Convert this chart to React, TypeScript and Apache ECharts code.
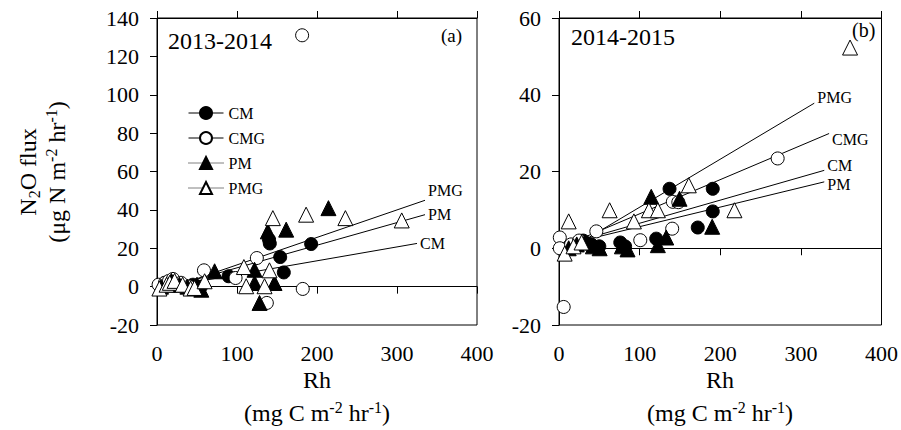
import React, { useEffect, useRef } from "react";
import * as echarts from "echarts";

const FONT = "Liberation Serif";

// axis ranges / ticks
const X_RANGE = { min: 0, max: 400, interval: 100 };
const Y_LEFT = { min: -20, max: 140, interval: 20 };
const Y_RIGHT = { min: -20, max: 60, interval: 20 };

// Panel (a) 2013-2014 : [Rh, N2O flux]
const CM_L = [[10, 2], [20, 3], [25, 1], [35, 0], [45, 1], [55, 0], [89.5, 5.4], [140, 24.5], [141, 22.5], [154, 15.4], [158.5, 7.4], [192.7, 22.2]];
const CMG_L = [[2, 1], [10, 2], [15, 3], [20, 4], [30, 2], [40, 0], [58.7, 8.5], [98.2, 4.5], [124.8, 14.9], [137.3, -8.5], [181.4, 131], [182.2, -1.2]];
const PM_L = [[5, 0], [15, 1], [18, 3], [28, 1], [38, 0], [50, 1], [55.4, -1.6], [72, 8], [121.9, 8.8], [122, 1.9], [128.2, -8.5], [138.5, 28.8], [146.9, 1.9], [161.5, 29.7], [214.3, 40.9]];
const PMG_L = [[3, -1], [12, 1], [16, 2], [22, 3], [32, 1], [42, -1], [47, -0.7], [59.5, 2.8], [108.6, 10.2], [111.5, 0.2], [134.4, 0.2], [140.6, 8.5], [144.8, 35.7], [186.4, 37.5], [235.5, 35.7], [305.9, 34.5]];

// Panel (b) 2014-2015
const CM_R = [[10, 0.5], [20, 1], [30, 2], [40, 1], [50, 0.5], [76, 1.5], [82, 0.5], [120.6, 2.5], [137.1, 15.5], [172.1, 5.4], [190.7, 15.5], [190.7, 9.6]];
const CMG_R = [[1, 2.8], [1, 0], [5.8, -15.3], [15, 1], [25, 2], [46.3, 4.4], [100.8, 2.1], [140.4, 5.1], [141.2, 12.1], [148, 12], [271.2, 23.4]];
const PM_R = [[12, 0], [22, 1], [32, 1.5], [42, 0.5], [50.4, 0], [78, 0.5], [85, -0.3], [114.4, 13.4], [122.6, 0.8], [133, 2.8], [149.5, 12.9], [190, 5.6]];
const PMG_R = [[7, -1.4], [12, 7], [18, 0.5], [28, 1.5], [62.8, 9.9], [92.9, 7], [111.5, 9.9], [122.6, 9.9], [161, 16.4], [217.6, 9.9], [361, 52.3]];

// regression lines (end points)
const FIT_L_PMG = [[0, -3], [335, 45]];
const FIT_L_PM = [[0, -2], [335, 37.5]];
const FIT_L_CM = [[0, -1], [325, 22.5]];
const FIT_R_PMG = [[25, 1.3], [316.6, 37.8]];
const FIT_R_CMG = [[25, 2.3], [335, 29.9]];
const FIT_R_CM = [[25, 2], [329, 20.3]];
const FIT_R_PM = [[25, 1.8], [329, 17.3]];

const NAMES = ["CM", "CMG", "PM", "PMG"];

export default function App() {
  const ref = useRef<HTMLDivElement>(null);
  useEffect(() => {
    if (!ref.current) return;
    document.body.style.margin = "0";
    const chart = echarts.init(ref.current, undefined, { renderer: "svg" });

    const pts = (name: string, data: number[][], panel: number, filled: boolean, symbol: string) => ({
      type: "line",
      name,
      xAxisIndex: panel * 2,
      yAxisIndex: panel,
      data,
      symbol,
      symbolSize: symbol === "circle" ? 13 : 15,
      showSymbol: true,
      lineStyle: { width: 0, opacity: 0 },
      itemStyle: filled
        ? { color: "#000", borderColor: "#000", borderWidth: 1 }
        : { color: "#fff", borderColor: "#000", borderWidth: 1 },
      z: 3,
      silent: true,
    });

    const fit = (label: string, data: number[][], panel: number, offset: number[]) => ({
      type: "line",
      name: label + " fit",
      xAxisIndex: panel * 2,
      yAxisIndex: panel,
      data,
      symbol: "none",
      lineStyle: { color: "#000", width: 1 },
      z: 2,
      silent: true,
      endLabel: {
        show: true,
        formatter: label,
        fontFamily: FONT,
        fontSize: 16,
        color: "#000",
        distance: 3,
        offset,
      },
    });

    const xA = (grid: number, margin: number) => ({
      type: "value",
      gridIndex: grid,
      position: "bottom",
      ...X_RANGE,
      axisLine: { onZero: true, lineStyle: { color: "#000", width: 1 } },
      axisTick: { show: true, inside: false, length: 7, lineStyle: { color: "#000" } },
      axisLabel: { margin, fontFamily: FONT, fontSize: 22, color: "#000" },
      splitLine: { show: false },
    });
    const xB = (grid: number) => ({
      type: "value",
      gridIndex: grid,
      position: "top",
      ...X_RANGE,
      axisLine: { onZero: true, lineStyle: { color: "#000", width: 1 } },
      axisTick: { show: true, inside: false, length: 7, lineStyle: { color: "#000" } },
      axisLabel: { show: false },
      splitLine: { show: false },
    });
    const yAx = (grid: number, range: any) => ({
      type: "value",
      gridIndex: grid,
      ...range,
      axisLine: { show: true, onZero: false, lineStyle: { color: "#000", width: 1 } },
      axisTick: { show: true, inside: false, length: 7, lineStyle: { color: "#000" } },
      axisLabel: { margin: 18, fontFamily: FONT, fontSize: 22, color: "#000" },
      splitLine: { show: false },
    });

    const rich = {
      n: { fontFamily: FONT, fontSize: 24, color: "#000", lineHeight: 28 },
      sup: { fontFamily: FONT, fontSize: 16, color: "#000", lineHeight: 28, verticalAlign: "top", padding: [0, 0, 6, 0] },
      sub: { fontFamily: FONT, fontSize: 16, color: "#000", lineHeight: 28, verticalAlign: "bottom", padding: [8, 0, 0, 0] },
    };
    const unitsX = "{n|(mg C m}{sup|-2}{n| hr}{sup|-1}{n|)}";

    const txt = (x: number, y: number, text: string, size: number, align = "center") => ({
      type: "text",
      x,
      y,
      silent: true,
      style: { text, fontFamily: FONT, fontSize: size, fill: "#000", align, verticalAlign: "middle" },
    });
    const richTxt = (x: number, y: number, text: string, rotation = 0) => ({
      type: "text",
      x,
      y,
      rotation,
      silent: true,
      style: { text, rich, align: "center", verticalAlign: "middle" },
    });

    const option: any = {
      animation: false,
      backgroundColor: "#fff",
      textStyle: { fontFamily: FONT },
      grid: [
        { left: 157, top: 18, width: 320, height: 307, show: true, borderColor: "#000", borderWidth: 1, backgroundColor: "transparent" },
        { left: 559, top: 18, width: 323, height: 307, show: true, borderColor: "#000", borderWidth: 1, backgroundColor: "transparent" },
      ],
      xAxis: [xA(0, 17), xB(0), xA(1, 17), xB(1)],
      yAxis: [yAx(0, Y_LEFT), yAx(1, Y_RIGHT)],
      legend: {
        left: 183,
        top: 100,
        orient: "vertical",
        itemWidth: 35,
        itemHeight: 15,
        itemGap: 9,
        selectedMode: false,
        textStyle: { fontFamily: FONT, fontSize: 16, color: "#000" },
        data: NAMES.map((n, i) => ({
          name: n,
          lineStyle: { color: "#000", width: 1, opacity: 1, type: i < 2 ? "solid" : "dotted" },
        })),
      },
      series: [
        fit("PMG", FIT_L_PMG, 0, [0, -10]),
        fit("PM", FIT_L_PM, 0, [0, 0]),
        fit("CM", FIT_L_CM, 0, [0, 0]),
        fit("PMG", FIT_R_PMG, 1, [0, -6]),
        fit("CMG", FIT_R_CMG, 1, [0, 6]),
        fit("CM", FIT_R_CM, 1, [0, -5]),
        fit("PM", FIT_R_PM, 1, [0, 3]),
        pts("CM", CM_L, 0, true, "circle"),
        pts("CMG", CMG_L, 0, false, "circle"),
        pts("PM", PM_L, 0, true, "triangle"),
        pts("PMG", PMG_L, 0, false, "triangle"),
        pts("CM", CM_R, 1, true, "circle"),
        pts("CMG", CMG_R, 1, false, "circle"),
        pts("PM", PM_R, 1, true, "triangle"),
        pts("PMG", PMG_R, 1, false, "triangle"),
      ],
      graphic: [
        txt(168, 41, "2013-2014", 24, "left"),
        txt(571, 37, "2014-2015", 24, "left"),
        txt(441, 35, "(a)", 19, "left"),
        txt(852, 30, "(b)", 20, "left"),
        txt(317, 380, "Rh", 24),
        txt(720, 380, "Rh", 24),
        richTxt(317, 413, unitsX),
        richTxt(720, 413, unitsX),
        richTxt(28, 172, "{n|N}{sub|2}{n|O flux}", Math.PI / 2),
        richTxt(57, 172, "{n|(μg N m}{sup|-2}{n| hr}{sup|-1}{n|)}", Math.PI / 2),
      ],
    };
    chart.setOption(option);
    return () => chart.dispose();
  }, []);
  return <div ref={ref} style={{ width: 901, height: 430 }} />;
}
